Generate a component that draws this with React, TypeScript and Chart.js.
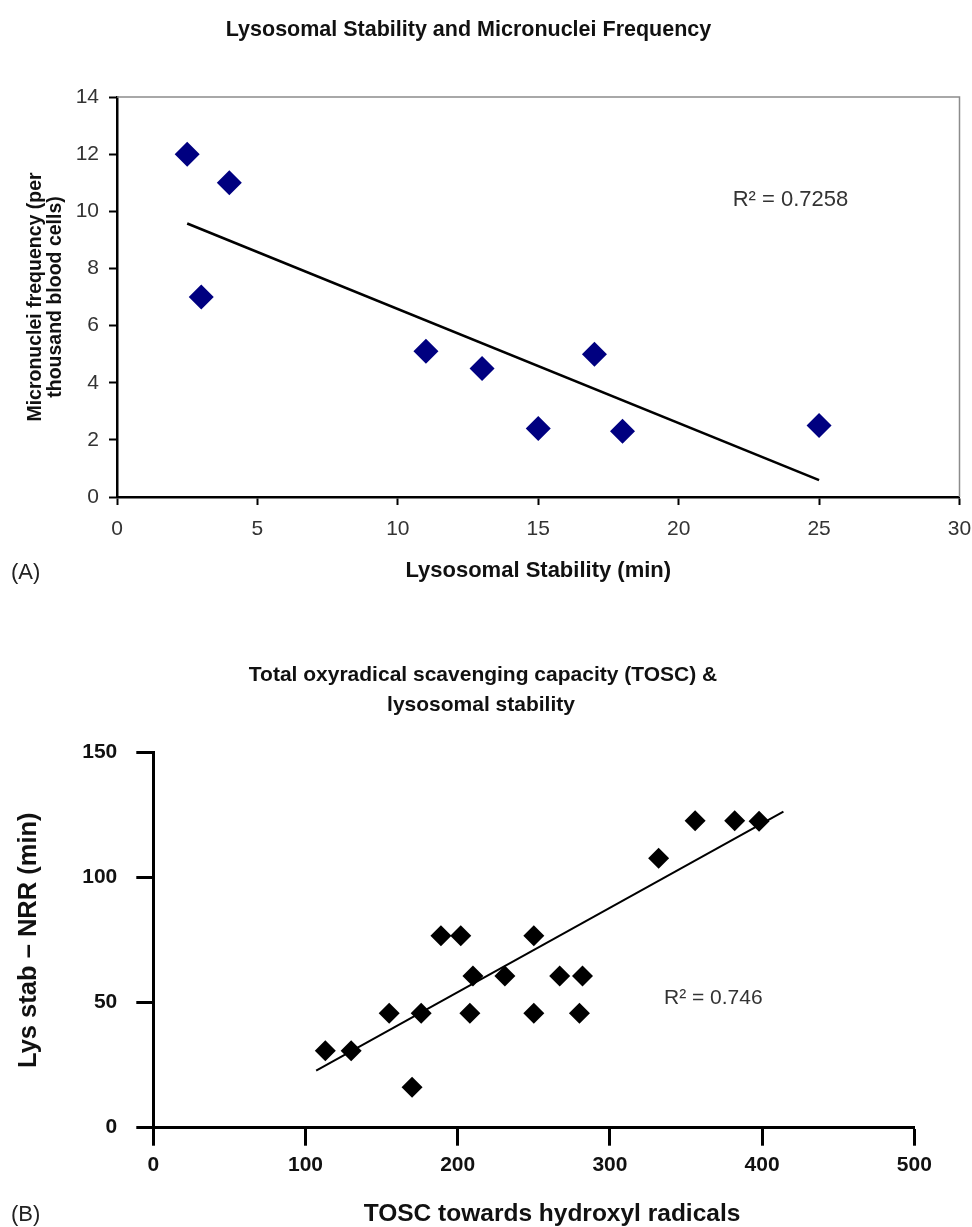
import React, { useEffect, useRef } from 'react';
import { Chart, registerables } from 'chart.js';

Chart.register(...registerables);

const FONT = '"Liberation Sans", Arial, Helvetica, sans-serif';

// ---- Panel A data ----
const lysosomalStabilityMin = [2.5, 3, 4, 11, 13, 15, 17, 18, 25];
const micronucleiFrequency = [12, 7, 11, 5.1, 4.5, 2.4, 5, 2.3, 2.5];
const trendAX = [2.5, 25];
const trendAY = [9.57, 0.59];
const xRangeA = [0, 30];
const yRangeA = [0, 14];
const xStepA = 5;
const yStepA = 2;

// ---- Panel B data ----
const toscHydroxyl = [113, 130, 155, 170, 176, 189, 202, 208, 210, 231, 250, 250, 267, 280, 282, 332, 356, 382, 398];
const lysStabNRR = [30.8, 30.8, 45.8, 16.2, 45.8, 76.8, 76.8, 45.8, 60.7, 60.7, 76.8, 45.8, 60.7, 45.8, 60.7, 107.8, 122.8, 122.8, 122.6];
const trendBX = [107, 414];
const trendBY = [22.8, 126.4];
const xRangeB = [0, 500];
const yRangeB = [0, 150];
const xStepB = 100;
const yStepB = 50;

type TextItem = { text: string; x: number; y: number; size: number; weight?: string; color?: string; align?: CanvasTextAlign };

function textPlugin(id: string, items: TextItem[]) {
  return {
    id,
    afterDraw(chart: any) {
      const ctx = chart.ctx;
      ctx.save();
      for (const t of items) {
        ctx.font = `${t.weight || 'normal'} ${t.size}px ${FONT}`;
        ctx.fillStyle = t.color || '#000';
        ctx.textAlign = t.align || 'center';
        ctx.textBaseline = 'middle';
        ctx.fillText(t.text, t.x, t.y);
      }
      ctx.restore();
    },
  };
}

const frameA = {
  id: 'frameA',
  beforeDatasetsDraw(chart: any) {
    const { ctx, chartArea } = chart;
    ctx.save();
    ctx.strokeStyle = '#8c8c8c';
    ctx.lineWidth = 1.5;
    ctx.beginPath();
    ctx.moveTo(chartArea.left, chartArea.top);
    ctx.lineTo(chartArea.right, chartArea.top);
    ctx.lineTo(chartArea.right, chartArea.bottom);
    ctx.stroke();
    ctx.restore();
  },
};

function makeA(canvas: HTMLCanvasElement) {
  const H = 640;
  return new Chart(canvas, {
    type: 'scatter',
    data: {
      datasets: [
        {
          data: lysosomalStabilityMin.map((x, i) => ({ x, y: micronucleiFrequency[i] })),
          pointStyle: 'rectRot',
          pointRadius: 12.5,
          backgroundColor: '#000080',
          borderWidth: 0,
          order: 1,
        },
        {
          data: trendAX.map((x, i) => ({ x, y: trendAY[i] })),
          showLine: true,
          borderColor: '#000',
          borderWidth: 2.6,
          pointRadius: 0,
          fill: false,
          order: 2,
        },
      ],
    } as any,
    options: {
      responsive: false,
      animation: false,
      layout: { padding: { top: 97, right: 10, left: 0, bottom: 0 } },
      plugins: { legend: { display: false }, tooltip: { enabled: false }, title: { display: false } },
      scales: {
        x: {
          type: 'linear',
          min: xRangeA[0],
          max: xRangeA[1],
          ticks: { stepSize: xStepA, font: { family: FONT, size: 21 }, color: '#333', padding: 12 },
          grid: { drawOnChartArea: false, tickLength: 8, color: '#000', tickWidth: 2 },
          border: { display: true, color: '#000', width: 2.5 },
          title: {
            display: true,
            text: 'Lysosomal Stability (min)',
            font: { family: FONT, size: 22, weight: 'bold' },
            color: '#111',
            padding: { top: 0, bottom: 56 },
          },
          afterFit: (s: any) => {
            s.height = H - 497;
            s.paddingLeft = 0;
            s.paddingRight = 0;
          },
        },
        y: {
          type: 'linear',
          min: yRangeA[0],
          max: yRangeA[1],
          ticks: { stepSize: yStepA, font: { family: FONT, size: 21 }, color: '#333', padding: 10 },
          grid: { drawOnChartArea: false, tickLength: 8, color: '#000', tickWidth: 2 },
          border: { display: true, color: '#000', width: 2.5 },
          title: {
            display: true,
            text: ['Micronuclei frequency (per', 'thousand blood cells)'],
            font: { family: FONT, size: 19.5, weight: 'bold', lineHeight: '19.5px' },
            color: '#111',
            padding: { top: 26, bottom: 0 },
          },
          afterFit: (s: any) => {
            s.width = 117;
            s.paddingTop = 0;
            s.paddingBottom = 0;
          },
        },
      },
    } as any,
    plugins: [
      frameA,
      textPlugin('textA', [
        { text: 'Lysosomal Stability and Micronuclei Frequency', x: 468.5, y: 30, size: 21.5, weight: 'bold', color: '#111' },
        { text: 'R\u00B2 = 0.7258', x: 732.7, y: 200, size: 22, color: '#333', align: 'left' },
        { text: '(A)', x: 11, y: 573, size: 22, color: '#222', align: 'left' },
      ]),
    ],
  });
}

function makeB(canvas: HTMLCanvasElement) {
  const H = 587;
  return new Chart(canvas, {
    type: 'scatter',
    data: {
      datasets: [
        {
          data: toscHydroxyl.map((x, i) => ({ x, y: lysStabNRR[i] })),
          pointStyle: 'rectRot',
          pointRadius: 10.5,
          backgroundColor: '#000',
          borderWidth: 0,
          order: 1,
        },
        {
          data: trendBX.map((x, i) => ({ x, y: trendBY[i] })),
          showLine: true,
          borderColor: '#000',
          borderWidth: 2,
          pointRadius: 0,
          fill: false,
          order: 2,
        },
      ],
    } as any,
    options: {
      responsive: false,
      animation: false,
      layout: { padding: { top: 112.7, right: 57.7, left: 0, bottom: 0 } },
      plugins: { legend: { display: false }, tooltip: { enabled: false }, title: { display: false } },
      scales: {
        x: {
          type: 'linear',
          min: xRangeB[0],
          max: xRangeB[1],
          ticks: { stepSize: xStepB, font: { family: FONT, size: 21, weight: 'bold' }, color: '#111', padding: 7 },
          grid: { drawOnChartArea: false, tickLength: 18, color: '#000', tickWidth: 3 },
          border: { display: true, color: '#000', width: 3 },
          afterFit: (s: any) => {
            s.height = H - 487.7;
            s.paddingLeft = 0;
            s.paddingRight = 0;
          },
        },
        y: {
          type: 'linear',
          min: yRangeB[0],
          max: yRangeB[1],
          ticks: { stepSize: yStepB, font: { family: FONT, size: 21, weight: 'bold' }, color: '#111', padding: 19 },
          grid: { drawOnChartArea: false, tickLength: 17, color: '#000', tickWidth: 3 },
          border: { display: true, color: '#000', width: 3 },
          title: {
            display: true,
            text: 'Lys stab \u2013 NRR (min)',
            font: { family: FONT, size: 25.5, weight: 'bold', lineHeight: 1.2 },
            color: '#111',
            padding: { top: 14, bottom: 0 },
          },
          afterFit: (s: any) => {
            s.width = 153.3;
            s.paddingTop = 0;
            s.paddingBottom = 0;
          },
        },
      },
    } as any,
    plugins: [
      textPlugin('textB', [
        { text: 'Total oxyradical scavenging capacity (TOSC) &', x: 483, y: 35, size: 21, weight: 'bold', color: '#111' },
        { text: 'lysosomal stability', x: 481, y: 65, size: 21, weight: 'bold', color: '#111' },
        { text: 'TOSC towards hydroxyl radicals', x: 552, y: 574, size: 24.5, weight: 'bold', color: '#111' },
        { text: 'R\u00B2 = 0.746', x: 664, y: 358, size: 21, color: '#333', align: 'left' },
        { text: '(B)', x: 11, y: 575, size: 22, color: '#222', align: 'left' },
      ]),
    ],
  });
}

export default function App() {
  const refA = useRef<HTMLCanvasElement>(null);
  const refB = useRef<HTMLCanvasElement>(null);
  useEffect(() => {
    const a = makeA(refA.current!);
    const b = makeB(refB.current!);
    return () => {
      a.destroy();
      b.destroy();
    };
  }, []);
  return (
    <div style={{ position: 'absolute', left: 0, top: 0, width: 972, height: 1227, background: '#fff', overflow: 'hidden' }}>
      <canvas ref={refA} width={972} height={640} style={{ position: 'absolute', left: 0, top: 0, width: 972, height: 640 }} />
      <canvas ref={refB} width={972} height={587} style={{ position: 'absolute', left: 0, top: 640, width: 972, height: 587 }} />
    </div>
  );
}
